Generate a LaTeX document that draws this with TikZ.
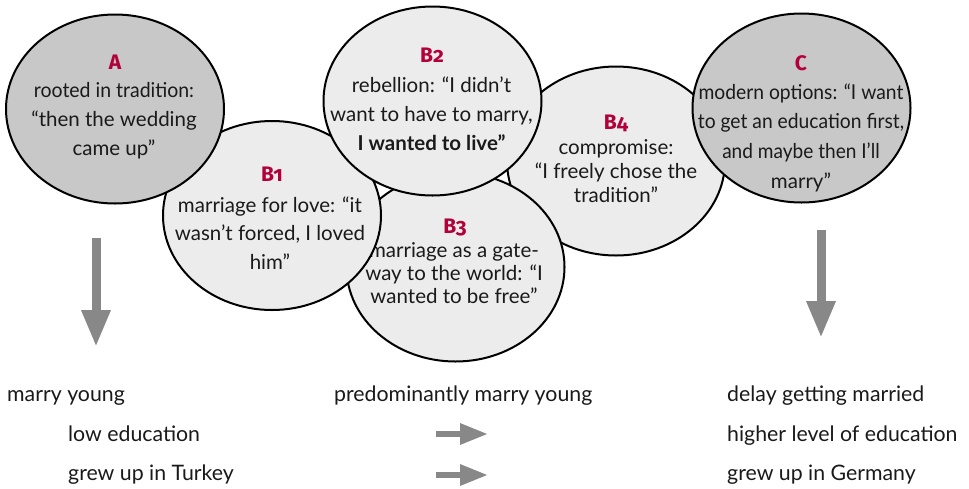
\documentclass[tikz,border=0pt]{standalone}
\usepackage{fontspec}
\setmainfont{Lato}
\newfontfamily\labfont[Numbers=OldStyle]{Fira Sans}
\usetikzlibrary{shapes.geometric,arrows.meta}
\definecolor{redc}{RGB}{178,0,58}
\definecolor{darkfill}{RGB}{200,200,200}
\definecolor{lightfill}{RGB}{236,236,236}
\definecolor{arrowc}{RGB}{136,136,136}
\definecolor{txtc}{RGB}{26,26,26}
\tikzset{
  bubble/.style={ellipse, draw=black, line width=2pt, minimum width=218pt, minimum height=189pt, inner sep=0pt},
  darkbubble/.style={bubble, fill=darkfill},
  lightbubble/.style={bubble, fill=lightfill},
  body/.style={align=center, inner sep=0pt, text=txtc, font=\fontsize{20.5}{#1}\selectfont},
  body/.default=29,
  lab/.style={anchor=base, inner sep=0pt, text=redc, font=\labfont\bfseries\fontsize{21}{21}\selectfont},
  plain/.style={anchor=base west, inner sep=0pt, text=txtc, font=\fontsize{21.3}{24}\selectfont},
  bigarrow/.style={draw=arrowc, line width=9pt, -{Triangle[length=37pt,width=27pt]}},
  smallarrow/.style={draw=arrowc, line width=6pt, -{Triangle[length=28pt,width=20pt]}}
}
\begin{document}
\begin{tikzpicture}[x=1pt,y=-1pt]
\useasboundingbox[fill=white] (0,0) rectangle (969,488);
% B4
\node[lightbubble] (B4) at (616,161) {};
\node[lab] (B4l) at (616,129) {B4};
\node[body=24] (B4t) at (616,171) {compromise:\\``I freely chose the\\tradition''};
% B3
\node[lightbubble] (B3) at (455.5,267) {};
\node[lab] (B3l) at (455,233) {B3};
\node[body=23] (B3t) at (454,273) {marriage as a gate-\\way to the world: ``I\\wanted to be free''};
% B1
\node[lightbubble] (B1) at (272,215.5) {};
\node[lab] (B1l) at (272,181) {B1};
\node[body=28.5] (B1t) at (270,233) {marriage for love: ``it\\wasn't forced, I loved\\him''};
% B2
\node[lightbubble] (B2) at (432.5,101) {};
\node[lab] (B2l) at (432,62) {B2};
\node[body=29] (B2t) at (431.5,114) {rebellion: ``I didn't\\want to have to marry,\\\textbf{I wanted to live''}};
% A
\node[darkbubble] (A) at (115,109) {};
\node[lab] (Al) at (115,69) {A};
\node[body=29] (At) at (114,121) {\scalebox{0.95}[1]{rooted in tradition:}\\``then the wedding\\came up''};
% C
\node[darkbubble] (C) at (801.5,108) {};
\node[lab] (Cl) at (801,70.5) {C};
\node[body=29.7] (Ct) at (801,137.5) {\scalebox{0.94}[1]{modern options: ``I want}\\\scalebox{0.94}[1]{to get an education first,}\\\scalebox{0.93}[1]{and maybe then I'll}\\marry''};
% arrows
\coordinate (la1) at (96,238);
\coordinate (la2) at (96,347);
\coordinate (ra1) at (821,230);
\coordinate (ra2) at (821,338);
\draw[bigarrow] (la1) -- (la2);
\draw[bigarrow] (ra1) -- (ra2);
\coordinate (sa1) at (436,434);
\coordinate (sa2) at (488,434);
\coordinate (sb1) at (436,475);
\coordinate (sb2) at (488,475);
\draw[smallarrow] (sa1) -- (sa2);
\draw[smallarrow] (sb1) -- (sb2);
% bottom texts
\node[plain] (l1) at (7,401) {marry young};
\node[plain] (l2) at (68,441) {low education};
\node[plain] (l3) at (68,480) {grew up in Turkey};
\node[plain] (m1) at (334,401) {predominantly marry young};
\node[plain] (r1) at (727,401) {delay getting married};
\node[plain] (r2) at (727,441) {higher level of education};
\node[plain] (r3) at (727,480) {grew up in Germany};
\end{tikzpicture}
\end{document}
